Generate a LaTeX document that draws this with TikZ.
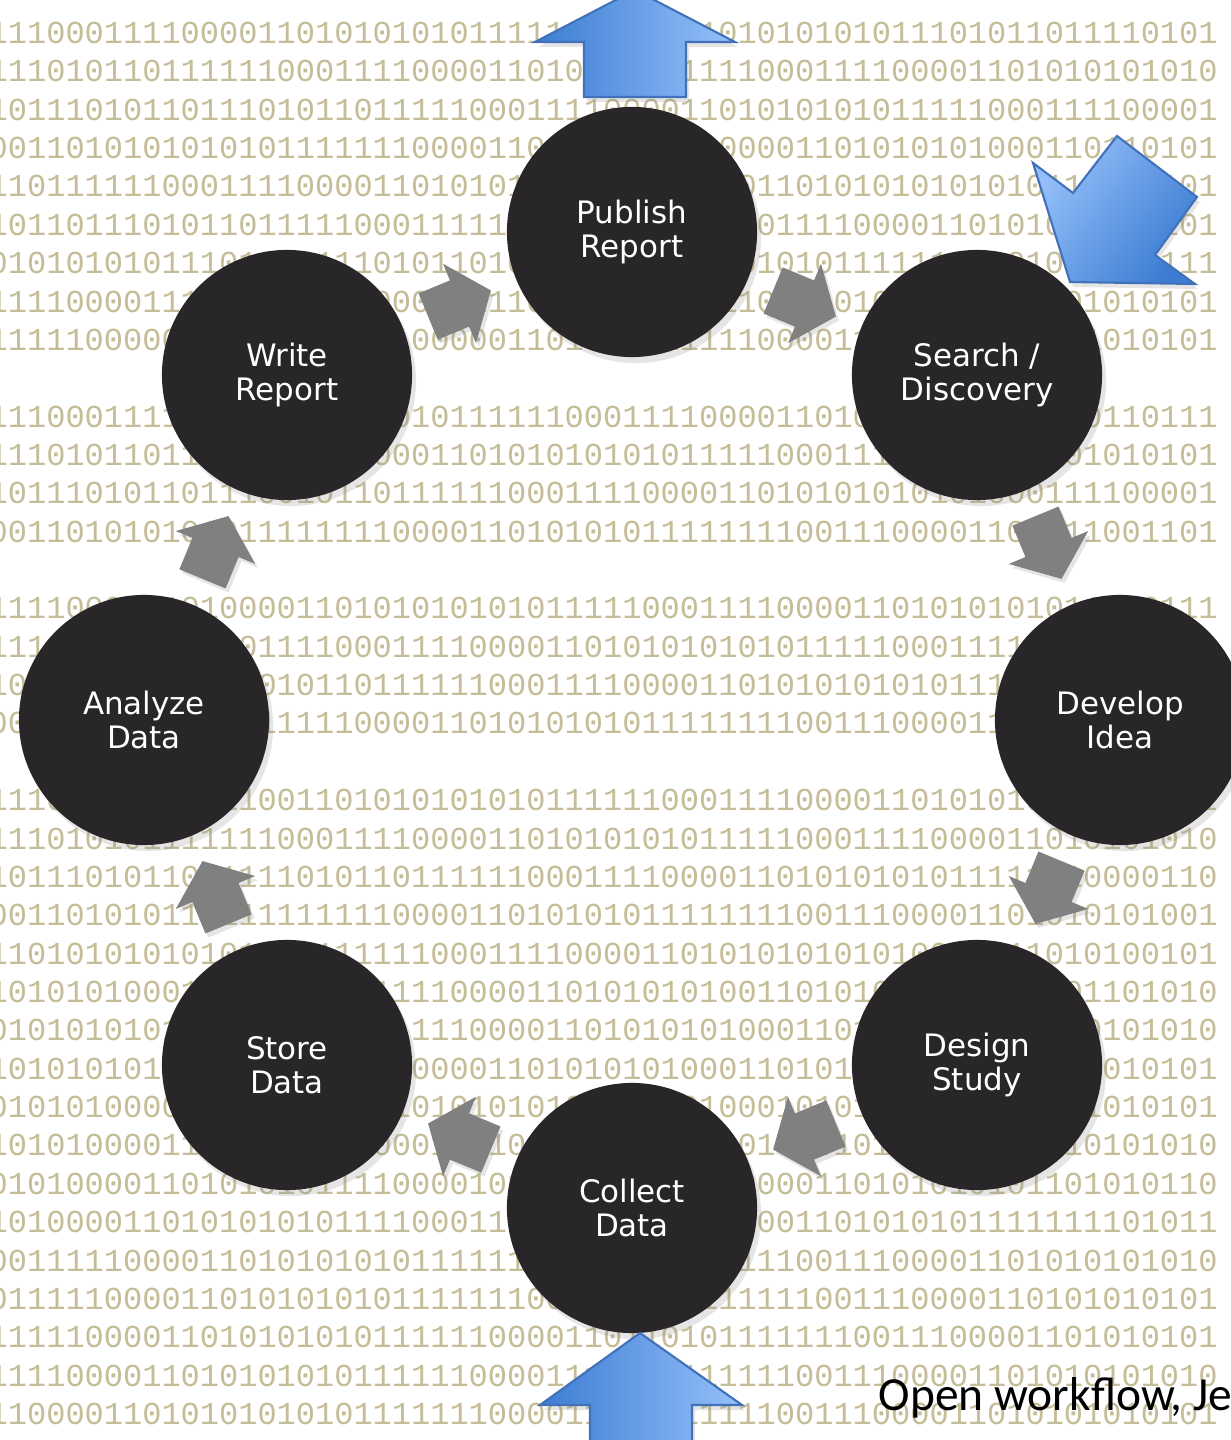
\documentclass[tikz,border=0pt]{standalone}
\usepackage{fontspec}
\setmainfont{DejaVu Sans}
\newfontfamily\binfont{Liberation Mono}
\newfontfamily\notefont{Carlito}
\usetikzlibrary{calc,shadows}
\definecolor{khaki}{RGB}{197,189,151}
\definecolor{stagefill}{RGB}{40,38,40}
\definecolor{flowgrey}{RGB}{128,128,128}
\definecolor{bluedark}{RGB}{60,125,210}
\definecolor{bluelight}{RGB}{150,192,250}
\definecolor{blueedge}{RGB}{65,113,185}

\begin{document}
\begin{tikzpicture}[x=0.01cm,y=-0.01cm,
  stage/.style={circle,fill=stagefill,text=white,minimum size=2.5cm,inner sep=0pt,align=center,
    font=\fontsize{8.8}{9.6}\selectfont,
    drop shadow={opacity=0.2,shadow xshift=0.4mm,shadow yshift=-0.6mm}},
  binrow/.style={anchor=base west,inner sep=0pt,text=khaki,font=\binfont\fontsize{9.1}{9.1}\selectfont},
  flowarrow/.style={fill=flowgrey,drop shadow={opacity=0.2,shadow xshift=0.3mm,shadow yshift=-0.4mm}},
  bigarrow/.style={draw=blueedge,line width=0.6pt,line join=miter,
    drop shadow={opacity=0.2,shadow xshift=0.3mm,shadow yshift=-0.5mm}}]
  \clip (0,0) rectangle (1231,1440);
  \fill[white] (0,0) rectangle (1231,1440);

  % binary backdrop
  \foreach \row/\bits in {
    0/1110001111000011010101010111111100001101010101011101011011110101,
    1/1110101101111110001111000011010100111111000111100001101010101010,
    2/1011101011011101011011111000111100001101010101011111000111100001,
    3/0011010101010101111111000011010110011100001101010101000110110101,
    4/1101111110001111000011010101011111110000110101010101010111010101,
    5/1011011101011011111000111110110101111100011110000110101010110101,
    6/0101010101110101011101011010110010101010101011111110101010111111,
    7/1111000011101011101100000111010101000011010101010101010101010101,
    8/1111100000101111010111000001101011111111000011010101010101010101,
    10/1110001111010101011010101111110001111000011010101010101010110111,
    11/1110101101100100001000011010101010101111100011110000101101010101,
    12/1011101011011100101101111110001111000011010101010101000111100001,
    13/0011010101010111111110000110101010111111110011100001101011001101,
    15/1111000011010000110101010101011111000111100001101010101011110111,
    16/1110001111000011110001111000011010101010101111100011110000101010,
    17/1010101101111101011011111100011110000110101010101011111000111100,
    18/0011111110000111111000011010101010111111110011100001101010101001,
    20/1110101010101100110101010101011111100011110000110101010101010101,
    21/1110101011111110001111000011010101010111110001111000011010101010,
    22/1011101011011111010110111111000111100001101010101011111110000110,
    23/0011010101111111111110000110101010111111110011100001101010101001,
    24/1101010101010111011111100011110000110101010101010000011010100101,
    25/1010101000101111100011110000110101010100110101000110101001101010,
    26/0101010101001111110001111000011010101010001101010101101010101010,
    27/1010101010011110001111000011010101010001101010101101010101010101,
    28/0101010000111001101011010101010101000100010101010101010101010101,
    29/1010100001111111111000011110110101011010101010101010101010101010,
    30/0101000011010101011110000101101011111110000110101010101101010110,
    31/1010000110101010101111000111101011111100001101010101111111101011,
    32/0011111000011010101010111111100011111111110011100001101010101010,
    33/0111110000110101010101111111000110111111111001110000110101010101,
    34/1111100001101010101011111100001101101011111110011100001101010101,
    35/1111000011010101010111111000011110111111110011100001101010101010,
    36/1100001101010101010111111100001101111111100111000011010101010101}
    \node[binrow] at (-12,{43.5+38.36*\row}) {\bits};

  % the research cycle
  \node[stage] (publish) at (632,232) {Publish\\Report};
  \node[stage] (search) at (977,375) {Search /\\Discovery};
  \node[stage] (develop) at (1120,720) {Develop\\Idea};
  \node[stage] (design) at (977,1065) {Design\\Study};
  \node[stage] (collect) at (632,1208) {Collect\\Data};
  \node[stage] (store) at (287,1065) {Store\\Data};
  \node[stage] (analyze) at (144,720) {Analyze\\Data};
  \node[stage] (write) at (287,375) {Write\\Report};

  % grey steps between stages
  \foreach \from/\to/\ang in {write/publish/22.5,publish/search/-22.5,search/develop/-67.5,
      develop/design/-112.5,design/collect/-157.5,collect/store/157.5,store/analyze/112.5,analyze/write/67.5}
    \fill[flowarrow,shift={($(\from)!0.5!(\to)$)},rotate=\ang]
      (-34,-25) -- (0,-25) -- (0,-43) -- (34,0) -- (0,43) -- (0,25) -- (-34,25) -- cycle;

  % blue in and out arrows
  \draw[bigarrow,left color=bluedark,right color=bluelight]
    (584,97) -- (584,42) -- (535,42) -- (635,-10) -- (735,42) -- (686,42) -- (686,97) -- cycle;
  \draw[bigarrow,left color=bluelight,right color=bluedark,shading angle=53]
    (1070,282) -- (1033,163) -- (1073,193) -- (1117,136) -- (1197,197) -- (1155,255) -- (1195,284) -- cycle;
  \draw[bigarrow,left color=bluedark,right color=bluelight]
    (590,1470) -- (590,1405) -- (540,1405) -- (640,1333) -- (742,1405) -- (692,1405) -- (692,1470) -- cycle;

  \node[anchor=base west,inner sep=0pt,font=\notefont\fontsize{13.5}{13.5}\selectfont] (credit) at (878,1410) {Open workflow, Je};
\end{tikzpicture}
\end{document}
